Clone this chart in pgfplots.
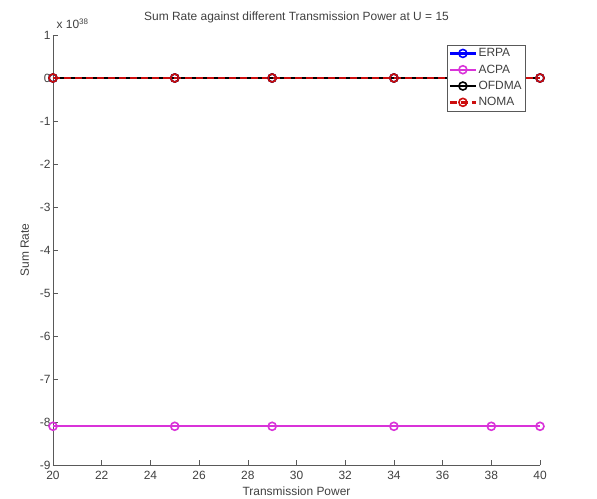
\documentclass[border=0pt]{standalone}
\usepackage{pgfplots}
\pgfplotsset{compat=1.18}
\usepackage{fontspec}
\setmainfont{Liberation Sans}
\definecolor{erpa}{rgb}{0,0,1}
\definecolor{acpa}{rgb}{0.85,0.2,0.85}
\definecolor{noma}{rgb}{0.8,0.05,0.05}
\begin{document}
\begin{tikzpicture}
\begin{axis}[
  scale only axis,
  width=487bp, height=430bp,
  xmin=20, xmax=40, ymin=-9, ymax=1,
  xtick={20,22,...,40}, ytick={-9,-8,...,1},
  axis x line=bottom, axis y line=left,
  axis line style={-, gray!70!black, line width=0.7pt},
  tick align=inside,
  major tick length=5bp,
  tick style={gray!70!black, line width=0.6pt},
  every tick label/.style={font=\fontsize{12}{13}\selectfont, text=black!75},
  xticklabel style={yshift=-3bp},
  yticklabel style={xshift=1bp},
  /pgf/number format/assume math mode=true,
  xlabel={Transmission Power},
  ylabel={Sum Rate},
  label style={font=\fontsize{12}{13}\selectfont, text=black!75},
  xlabel style={yshift=0bp},
  ylabel style={yshift=4bp},
  title={Sum Rate against different Transmission Power at U = 15},
  title style={font=\fontsize{12}{13}\selectfont, text=black!75, yshift=3bp},
  legend style={at={(axis description cs:0.969,0.977)}, anchor=north east,
    font=\fontsize{12}{13}\selectfont, text=black!75, draw=gray!70!black,
    row sep=2.5bp, inner sep=1.5bp,
    nodes={inner xsep=1.5bp}},
  legend cell align=left,
  legend image code/.code={
    \draw[mark repeat=2, mark phase=2] plot coordinates {(0bp,0bp) (13bp,0bp) (26bp,0bp)};
  },
  every axis plot/.append style={line width=2.3pt, mark size=4bp},
  clip=false,
]
\addplot[color=erpa, mark=o, mark options={solid, line width=1.6pt}] coordinates {(20,0) (25,0) (29,0) (34,0) (38,0) (40,0)};
\addlegendentry{ERPA}
\addplot[color=acpa, mark=o, mark options={solid, line width=1.6pt}] coordinates {(20,-8.1) (25,-8.1) (29,-8.1) (34,-8.1) (38,-8.1) (40,-8.1)};
\addlegendentry{ACPA}
\addplot[color=black, mark=o, mark options={solid, line width=1.6pt}] coordinates {(20,0) (25,0) (29,0) (34,0) (38,0) (40,0)};
\addlegendentry{OFDMA}
\addplot[color=noma, dash pattern=on 7bp off 4bp, mark=o, mark options={solid, line width=1.6pt}] coordinates {(20,0) (25,0) (29,0) (34,0) (38,0) (40,0)};
\addlegendentry{NOMA}
\node[anchor=south west, font=\fontsize{12}{13}\selectfont, text=black!75, inner sep=1bp] at (axis description cs:0.005,1.012) {x 10\textsuperscript{38}};
\end{axis}
\useasboundingbox (current axis.south west) ++(-53bp,-34bp) rectangle ([shift={(57bp,35bp)}]current axis.north east);
\end{tikzpicture}
\end{document}
